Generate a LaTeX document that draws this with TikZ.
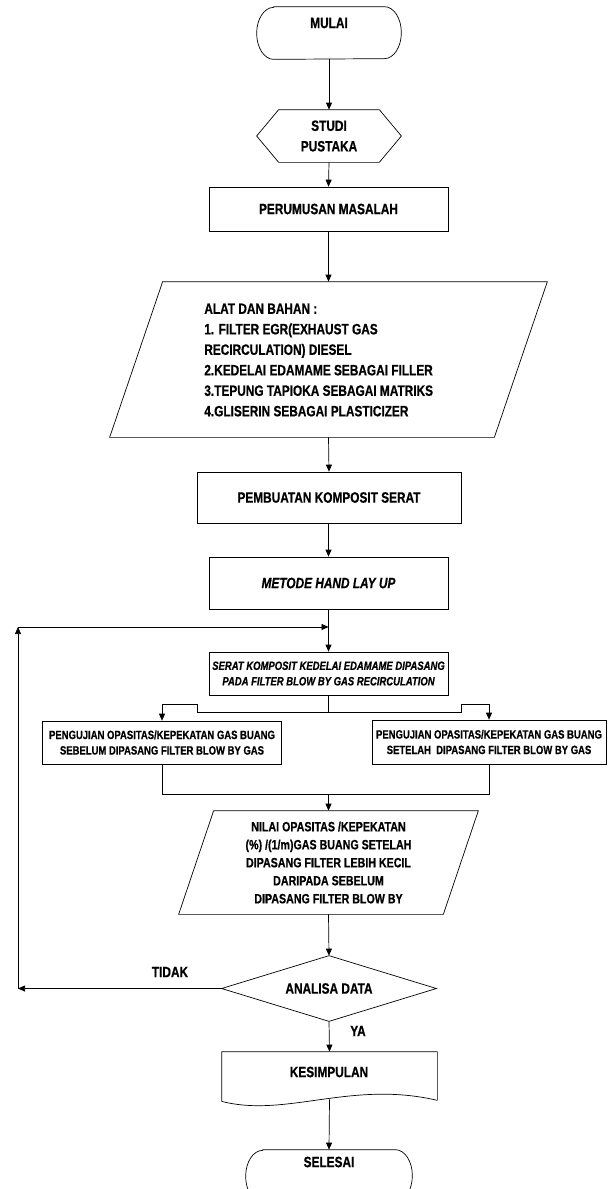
\documentclass[tikz,border=0pt]{standalone}
\usepackage{fontspec}
\setmainfont{Liberation Sans}[FakeStretch=0.79,
  BoldFont={Liberation Sans Bold},
  BoldItalicFont={Liberation Sans Bold Italic},
  BoldFeatures={FakeBold=0.6},
  BoldItalicFeatures={FakeBold=0.6}]
\usetikzlibrary{arrows.meta,calc}
\begin{document}
\begin{tikzpicture}[x=1pt,y=1pt,line width=0.7pt,
  frame/.style={draw=none,rectangle,inner sep=0pt},
  rbox/.style={draw,rectangle,inner sep=0pt,align=center},
  big/.style={font=\bfseries\fontsize{15}{20.5}\selectfont,align=center},
  small/.style={font=\bfseries\fontsize{12}{15.5}\selectfont,align=center},
  mid/.style={font=\bfseries\fontsize{13.5}{18}\selectfont,align=center},
  arr/.style={-{Triangle[length=7pt,width=6pt]}}]
\useasboundingbox (0,0) rectangle (614,-1189);

% MULAI
\node[frame,minimum width=144pt,minimum height=52pt] (mulai) at (329,-33) {};
\draw ([xshift=17pt]mulai.north west) -- ([xshift=-17pt]mulai.north east)
  arc[start angle=90,end angle=-90,x radius=17pt,y radius=26pt]
  -- ([xshift=17pt]mulai.south west)
  arc[start angle=270,end angle=90,x radius=17pt,y radius=26pt] -- cycle;
\node[big] (mulaitxt) at (329,-23) {MULAI};

% STUDI PUSTAKA
\node[frame,big,minimum width=144pt,minimum height=52pt] (studi) at (329,-136) {STUDI\\PUSTAKA};
\draw ([xshift=22pt]studi.north west) -- ([xshift=-22pt]studi.north east) -- (studi.east)
  -- ([xshift=-22pt]studi.south east) -- ([xshift=22pt]studi.south west) -- (studi.west) -- cycle;

% PERUMUSAN
\node[rbox,big,minimum width=239pt,minimum height=44pt] (rumus) at (328.5,-209) {PERUMUSAN MASALAH};

% ALAT DAN BAHAN
\node[frame,minimum width=437pt,minimum height=155pt] (alat) at (328.5,-359.5) {};
\draw ([xshift=53pt]alat.north west) -- (alat.north east) -- ([xshift=-53pt]alat.south east) -- (alat.south west) -- cycle;
\node[big,align=left,anchor=west,inner sep=0pt] (alattxt) at (204,-360) {ALAT DAN BAHAN :\\1. FILTER EGR(EXHAUST GAS\\RECIRCULATION) DIESEL\\2.KEDELAI EDAMAME SEBAGAI FILLER\\3.TEPUNG TAPIOKA SEBAGAI MATRIKS\\4.GLISERIN SEBAGAI PLASTICIZER};

% PEMBUATAN
\node[rbox,big,minimum width=264pt,minimum height=51pt] (buat) at (329,-497.5) {PEMBUATAN KOMPOSIT SERAT};
% METODE
\node[rbox,big,minimum width=239pt,minimum height=52pt] (metode) at (328.5,-583) {\itshape METODE HAND LAY UP};
% SERAT
\node[rbox,small,minimum width=239pt,minimum height=43pt] (serat) at (328.5,-673.5) {\itshape SERAT KOMPOSIT KEDELAI EDAMAME DIPASANG\\\itshape PADA FILTER BLOW BY GAS RECIRCULATION};

% PENGUJIAN boxes
\node[rbox,small,minimum width=239pt,minimum height=43pt] (kiri) at (162,-742.5) {PENGUJIAN OPASITAS/KEPEKATAN GAS BUANG\\SEBELUM DIPASANG FILTER BLOW BY GAS};
\node[rbox,small,minimum width=234pt,minimum height=44pt] (kanan) at (489,-742) {PENGUJIAN OPASITAS/KEPEKATAN GAS BUANG\\SETELAH\ \ DIPASANG FILTER BLOW BY GAS};

% NILAI
\node[frame,mid,minimum width=299pt,minimum height=103pt] (nilai) at (328.5,-862.5) {NILAI OPASITAS /KEPEKATAN\\(\%) /(1/m)GAS BUANG SETELAH\\DIPASANG FILTER LEBIH KECIL\\DARIPADA SEBELUM\\DIPASANG FILTER BLOW BY};
\draw ([xshift=35pt]nilai.north west) -- (nilai.north east) -- ([xshift=-35pt]nilai.south east) -- (nilai.south west) -- cycle;

% ANALISA DATA
\node[frame,big,minimum width=214pt,minimum height=65pt] (dia) at (329,-988.5) {ANALISA DATA};
\draw (dia.west) -- (dia.north) -- (dia.east) -- (dia.south) -- cycle;

% KESIMPULAN
\node[frame,minimum width=215pt,minimum height=49pt] (kes) at (329.5,-1076.5) {};
\draw ([yshift=1pt]kes.south east) -- (kes.north east) -- (kes.north west) -- (kes.south west)
  .. controls (286,-1118) and (351,-1080) .. ([yshift=1pt]kes.south east);
\node[big] (kestxt) at (329,-1072) {KESIMPULAN};

% SELESAI
\node[frame,minimum width=166pt,minimum height=52pt] (selesai) at (329,-1176) {};
\draw ([xshift=17pt]selesai.north west) -- ([xshift=-17pt]selesai.north east)
  arc[start angle=90,end angle=-90,x radius=17pt,y radius=26pt]
  -- ([xshift=17pt]selesai.south west)
  arc[start angle=270,end angle=90,x radius=17pt,y radius=26pt] -- cycle;
\node[big] (seltxt) at (329,-1162) {SELESAI};

% labels
\node[big] (tidak) at (170,-972) {TIDAK};
\node[big] (ya) at (358,-1031) {YA};

% connectors
\draw[arr] (mulai.south) -- (studi.north);
\draw[arr] (studi.south) -- (rumus.north);
\draw[arr] (rumus.south) -- (alat.north);
\draw[arr] (alat.south) -- (buat.north);
\draw[arr] (buat.south) -- (metode.south |- buat.south) -- (metode.north);
\draw[arr] (metode.south) -- (serat.north);
\draw[arr] (serat.south) |- (197,-712) |- (162,-704) -- (kiri.north);
\draw[arr] (serat.south) |- (461,-712) |- (489,-704) -- (kanan.north);
\draw (kiri.south) -- ++(0,-30) -| (kanan.south);
\coordinate (m) at (nilai.north |- 0,-794);
\draw[arr] (m) -- (nilai.north);
\draw[arr] (nilai.south) -- (dia.north);
\coordinate (c1) at (18,-988.5);
\coordinate (c2) at (18,-627);
\draw[arr] (dia.west) -- (c1);
\draw[arr] (c1) -- (c2);
\draw[arr] (c2) -- (metode.south |- c2);
\draw[arr] (dia.south) -- (kes.north);
\draw[arr] ([yshift=2pt]kes.south) -- (selesai.north);
\end{tikzpicture}
\end{document}
